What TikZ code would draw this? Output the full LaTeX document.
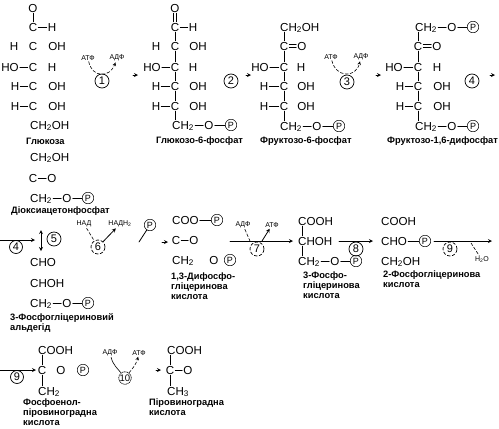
\documentclass[tikz,border=0pt]{standalone}
\usepackage{fontspec}
\setmainfont{Liberation Sans}
\begin{document}
\begin{tikzpicture}[x=1pt,y=-1pt,line cap=round,line join=round,>=stealth,
  every node/.style={inner sep=1pt},
  chem/.style={font=\fontsize{11.6}{11.6}\selectfont,text height=8.3pt,text depth=0pt},
  chemw/.style={chem,anchor=west},
  lbl/.style={font=\fontsize{9.3}{10}\selectfont\bfseries,anchor=west},
  cof/.style={font=\fontsize{7}{8}\selectfont},
  num/.style={circle,draw,line width=0.7pt,inner sep=0pt,minimum size=14pt,font=\fontsize{11}{11}\selectfont},
  phos/.style={circle,draw,line width=0.5pt,inner sep=0pt,minimum size=11.5pt,font=\fontsize{9}{9}\selectfont},
  bond/.style={line width=0.8pt},
  cofline/.style={line width=0.6pt,densely dashed},
  react/.style={line width=0.8pt,->}]
  \useasboundingbox (0,0) rectangle (499,429);
  % Glucose
  \node[chem] (goo) at (33,8) {O};
  \node[chem] (gc1) at (33,27) {C};
  \node[chem] (gh1) at (52,27) {H};
  \node[chem] (gh2) at (14,46) {H};
  \node[chem] (gc2) at (33,46) {C};
  \node[chem] (goh2) at (57,46) {OH};
  \node[chem] (gho3) at (10,67) {HO};
  \node[chem] (gc3) at (33,67) {C};
  \node[chem] (gh3) at (52,67) {H};
  \node[chem] (gh4) at (15,86) {H};
  \node[chem] (gc4) at (33,86) {C};
  \node[chem] (goh4) at (57,86) {OH};
  \node[chem] (gh5) at (15,106) {H};
  \node[chem] (gc5) at (33,106) {C};
  \node[chem] (goh5) at (57,106) {OH};
  \node[chemw] (gch) at (29,125) {CH\textsubscript{2}OH};
  \node[lbl] (glab) at (25,141) {Глюкоза};
  \draw[bond] (goo) -- (gc1);
  \draw[bond] (gc1) -- (gh1);
  \draw[bond] (gho3) -- (gc3);
  \draw[bond] (gh4) -- (gc4);
  \draw[bond] (gh5) -- (gc5);
  % Reaction 1
  \node[cof] (atf1) at (88,58) {АТФ};
  \node[cof] (adf1) at (117,58) {АДФ};
  \node[num] (n1) at (102,81) {1};
  \draw[cofline,->] (atf1) .. controls (92,78) and (110,78) .. (adf1);
  \coordinate (f1a) at (133,75);
  \coordinate (f1b) at (138,75);
  \draw[react] (f1a) -- (f1b);
  % Glucose-6-phosphate
  \node[chem] (aoo) at (175,8) {O};
  \node[chem] (ac1) at (175,27) {C};
  \node[chem] (ah1) at (193,27) {H};
  \node[chem] (ah2) at (156,46) {H};
  \node[chem] (ac2) at (175,46) {C};
  \node[chem] (aoh2) at (198,46) {OH};
  \node[chem] (aho3) at (152,67) {HO};
  \node[chem] (ac3) at (175,67) {C};
  \node[chem] (ah3) at (193,67) {H};
  \node[chem] (ah4) at (156,86) {H};
  \node[chem] (ac4) at (175,86) {C};
  \node[chem] (aoh4) at (198,86) {OH};
  \node[chem] (ah5) at (156,106) {H};
  \node[chem] (ac5) at (175,106) {C};
  \node[chem] (aoh5) at (198,106) {OH};
  \node[chemw] (ach) at (171,125) {CH\textsubscript{2}};
  \node[chem] (ao6) at (209,125) {O};
  \node[phos] (ap6) at (231,125) {P};
  \node[lbl] (alab) at (155,141) {Глюкозо-6-фосфат};
  \draw[bond] ([xshift=-1.2pt]aoo.south) -- ([xshift=-1.2pt]ac1.north);
  \draw[bond] ([xshift=1.2pt]aoo.south) -- ([xshift=1.2pt]ac1.north);
  \draw[bond] (ac1) -- (ah1);
  \draw[bond] (ac1) -- (ac2);
  \draw[bond] (ac2) -- (ac3);
  \draw[bond] (aho3) -- (ac3);
  \draw[bond] (ac3) -- (ac4);
  \draw[bond] (ah4) -- (ac4);
  \draw[bond] (ac4) -- (ac5);
  \draw[bond] (ah5) -- (ac5);
  \draw[bond] (ac5) -- (ac5 |- ach.north);
  \draw[bond] (ach) -- (ao6);
  \draw[bond] (ao6) -- (ap6);
  % Reaction 2
  \node[num] (n2) at (231,81) {2};
  \coordinate (f2a) at (246,75);
  \coordinate (f2b) at (251,75);
  \draw[react] (f2a) -- (f2b);
  % Fructose-6-phosphate
  \node[chemw] (bch1) at (279,27) {CH\textsubscript{2}OH};
  \node[chem] (bc2) at (284,46) {C};
  \node[chem] (boo) at (302,46) {O};
  \node[chem] (bho3) at (260,67) {HO};
  \node[chem] (bc3) at (284,67) {C};
  \node[chem] (bh3) at (301,67) {H};
  \node[chem] (bh4) at (264,86) {H};
  \node[chem] (bc4) at (284,86) {C};
  \node[chem] (boh4) at (306,86) {OH};
  \node[chem] (bh5) at (264,106) {H};
  \node[chem] (bc5) at (284,106) {C};
  \node[chem] (boh5) at (306,106) {OH};
  \node[chemw] (bch) at (279,126) {CH\textsubscript{2}};
  \node[chem] (bo6) at (317,126) {O};
  \node[phos] (bp6) at (339,126) {P};
  \node[lbl] (blab) at (259,141) {Фруктозо-6-фосфат};
  \draw[bond] (bc2) -- (bc2 |- bch1.south);
  \draw[bond] ([yshift=1.2pt]bc2.east) -- ([yshift=1.2pt]boo.west);
  \draw[bond] ([yshift=-1.2pt]bc2.east) -- ([yshift=-1.2pt]boo.west);
  \draw[bond] (bc2) -- (bc3);
  \draw[bond] (bho3) -- (bc3);
  \draw[bond] (bc3) -- (bc4);
  \draw[bond] (bh4) -- (bc4);
  \draw[bond] (bc4) -- (bc5);
  \draw[bond] (bh5) -- (bc5);
  \draw[bond] (bc5) -- (bc5 |- bch.north);
  \draw[bond] (bch) -- (bo6);
  \draw[bond] (bo6) -- (bp6);
  % Reaction 3
  \node[cof] (atf3) at (331,57) {АТФ};
  \node[cof] (adf3) at (361,57) {АДФ};
  \node[num] (n3) at (347,82) {3};
  \draw[cofline,->] (atf3) .. controls (336,78) and (356,78) .. (adf3);
  \coordinate (f3a) at (376,75);
  \coordinate (f3b) at (381,75);
  \draw[react] (f3a) -- (f3b);
  % Fructose-1,6-diphosphate
  \node[chemw] (cch1) at (414,27) {CH\textsubscript{2}};
  \node[chem] (co1) at (452,27) {O};
  \node[phos] (cp1) at (473,27) {P};
  \node[chem] (cc2) at (418,46) {C};
  \node[chem] (coo) at (437,46) {O};
  \node[chem] (cho3) at (394,67) {HO};
  \node[chem] (cc3) at (418,67) {C};
  \node[chem] (ch3) at (437,67) {H};
  \node[chem] (ch4) at (400,86) {H};
  \node[chem] (cc4) at (418,86) {C};
  \node[chem] (coh4) at (442,86) {OH};
  \node[chem] (ch5) at (400,106) {H};
  \node[chem] (cc5) at (418,106) {C};
  \node[chem] (coh5) at (442,106) {OH};
  \node[chemw] (cch) at (414,126) {CH\textsubscript{2}};
  \node[chem] (co6) at (452,126) {O};
  \node[phos] (cp6) at (473,126) {P};
  \node[lbl] (clab) at (386,141) {Фруктозо-1,6-дифосфат};
  \draw[bond] (cch1) -- (co1);
  \draw[bond] (co1) -- (cp1);
  \draw[bond] (cc2) -- (cc2 |- cch1.south);
  \draw[bond] ([yshift=1.2pt]cc2.east) -- ([yshift=1.2pt]coo.west);
  \draw[bond] ([yshift=-1.2pt]cc2.east) -- ([yshift=-1.2pt]coo.west);
  \draw[bond] (cc2) -- (cc3);
  \draw[bond] (cho3) -- (cc3);
  \draw[bond] (cc3) -- (cc4);
  \draw[bond] (ch4) -- (cc4);
  \draw[bond] (cc4) -- (cc5);
  \draw[bond] (ch5) -- (cc5);
  \draw[bond] (cc5) -- (cc5 |- cch.north);
  \draw[bond] (cch) -- (co6);
  \draw[bond] (co6) -- (cp6);
  % Reaction 4
  \node[num] (n4) at (472,81) {4};
  \coordinate (f4a) at (490,75);
  \coordinate (f4b) at (495,75);
  \draw[react] (f4a) -- (f4b);
  % Dihydroxyacetone phosphate
  \node[chemw] (dch1) at (29,157) {CH\textsubscript{2}OH};
  \node[chem] (dc2) at (33,178) {C};
  \node[chem] (doo) at (52,178) {O};
  \node[chemw] (dch3) at (29,198) {CH\textsubscript{2}};
  \node[chem] (do3) at (67,198) {O};
  \node[phos] (dp3) at (88,198) {P};
  \node[lbl] (dlab) at (10,211) {Діоксиацетонфосфат};
  \draw[bond] (dc2) -- (doo);
  \draw[bond] (dch3) -- (do3);
  \draw[bond] (do3) -- (dp3);
  % Reaction 4 continued, isomerase 5
  \coordinate (r4a) at (0,240);
  \coordinate (r4b) at (35,240);
  \draw[react] (r4a) -- (r4b);
  \node[num,minimum size=13pt] (m4) at (16,247) {4};
  \coordinate (r5a) at (41,230);
  \coordinate (r5b) at (41,251);
  \draw[react,<->] (r5a) -- (r5b);
  \node[num] (n5) at (54,239) {5};
  % Phosphoglyceraldehyde
  \node[chemw] (echo) at (29,262) {CHO};
  \node[chemw] (echoh) at (29,283) {CHOH};
  \node[chemw] (ech) at (29,303) {CH\textsubscript{2}};
  \node[chem] (eo3) at (67,303) {O};
  \node[phos] (ep3) at (88,303) {P};
  \node[lbl,align=left,anchor=north west] (elab) at (9,312) {3-Фосфогліцериновий\\альдегід};
  \draw[bond] (ech) -- (eo3);
  \draw[bond] (eo3) -- (ep3);
  % Reaction 6
  \node[cof] (nad) at (84,224) {НАД};
  \node[cof] (nadh) at (120,224) {НАДН\textsubscript{2}};
  \node[num,densely dashed] (n6) at (98,247) {6};
  \node[phos] (p6) at (150,225) {P};
  \draw[cofline] (nad) -- (n6);
  \draw[bond,->] (n6) -- (nadh);
  \coordinate (f6a) at (139,242);
  \draw[bond] (f6a) -- (p6);
  \coordinate (f6b) at (162,242);
  \coordinate (f6c) at (168,242);
  \draw[react] (f6b) -- (f6c);
  % 1,3-Diphosphoglyceric acid
  \node[chemw] (fcoo) at (171,220) {COO};
  \node[phos] (fp1) at (217,220) {P};
  \node[chem] (fc2) at (176,240) {C};
  \node[chem] (foo) at (194,240) {O};
  \node[chemw] (fch) at (171,260) {CH\textsubscript{2}};
  \node[chem] (fo3) at (214,260) {O};
  \node[phos] (fp3) at (230,260) {P};
  \node[lbl,align=left,anchor=north west] (flab) at (170,272) {1,3-Дифосфо-\\гліцеринова\\кислота};
  \draw[bond] (fcoo) -- (fp1);
  \draw[bond] (fc2) -- (foo);
  % Reaction 7
  \coordinate (r7a) at (230,241);
  \coordinate (r7b) at (293,241);
  \coordinate (r7c) at (250,241);
  \coordinate (r7d) at (262,241);
  \draw[react] (r7a) -- (r7b);
  \node[cof] (adf7) at (243,225) {АДФ};
  \node[cof] (atf7) at (272,225) {АТФ};
  \node[num,densely dashed] (n7) at (257,249) {7};
  \draw[cofline] (adf7) -- (r7c);
  \draw[bond,->] (r7d) -- (atf7);
  % 3-Phosphoglyceric acid
  \node[chemw] (gcooh) at (297,221) {COOH};
  \node[chemw] (gchoh) at (297,241) {CHOH};
  \node[chemw] (gch2) at (297,261) {CH\textsubscript{2}};
  \node[chem] (go3) at (335,261) {O};
  \node[phos] (gp3) at (356,261) {P};
  \coordinate (gx) at (302,241);
  \node[lbl,align=left,anchor=north west] (gplab) at (302,271) {3-Фосфо-\\гліцеринова\\кислота};
  \draw[bond] (gx |- gcooh.south) -- (gx |- gchoh.north);
  \draw[bond] (gx |- gchoh.south) -- (gx |- gch2.north);
  \draw[bond] (gch2) -- (go3);
  \draw[bond] (go3) -- (gp3);
  % Reaction 8
  \coordinate (r8a) at (339,241);
  \coordinate (r8b) at (373,241);
  \draw[react] (r8a) -- (r8b);
  \node[num] (n8) at (356,249) {8};
  % 2-Phosphoglyceric acid
  \node[chemw] (hcooh) at (380,221) {COOH};
  \node[chemw] (hcho) at (380,241) {CHO};
  \node[phos] (hp) at (425,241) {P};
  \node[chemw] (hch) at (380,261) {CH\textsubscript{2}OH};
  \node[lbl,align=left,anchor=north west] (hlab) at (382,270) {2-Фосфогліцеринова\\кислота};
  \draw[bond] (hcho) -- (hp);
  % Reaction 9
  \coordinate (r9a) at (434,241);
  \coordinate (r9b) at (492,241);
  \draw[react] (r9a) -- (r9b);
  \node[num,densely dashed] (n9) at (450,249) {9};
  \node[cof] (water) at (482,260) {H\textsubscript{2}O};
  \coordinate (w9) at (471,243);
  \draw[cofline] (w9) -- (water);
  % Phosphoenolpyruvate
  \coordinate (r9c) at (0,370);
  \coordinate (r9d) at (36,370);
  \draw[react] (r9c) -- (r9d);
  \node[num,minimum size=13pt] (m9) at (17,377) {9};
  \node[chemw] (kcooh) at (37,350) {COOH};
  \node[chem] (kc) at (42,370) {C};
  \node[chem] (ko) at (61,370) {O};
  \node[phos] (kp) at (83,370) {P};
  \node[chemw] (kch) at (37,391) {CH\textsubscript{2}};
  \node[lbl,align=left,anchor=north west] (klab) at (22,398) {Фосфоенол-\\піровиноградна\\кислота};
  \draw[bond] (kc) -- (kc |- kcooh.south);
  \draw[bond] (kc) -- (kc |- kch.north);
  % Reaction 10
  \node[cof] (adf10) at (110,353) {АДФ};
  \node[cof] (atf10) at (139,353) {АТФ};
  \node[num,densely dotted,minimum size=12pt,font=\fontsize{9.5}{9.5}\selectfont] (n10) at (125,378) {10};
  \draw[cofline,solid] (adf10) .. controls (113,365) and (118,369) .. (n10);
  \draw[cofline,->] (n10) .. controls (132,369) and (136,365) .. (atf10);
  \coordinate (f10a) at (156,370);
  \coordinate (f10b) at (161,370);
  \draw[react] (f10a) -- (f10b);
  % Pyruvic acid
  \node[chemw] (lcooh) at (166,350) {COOH};
  \node[chem] (lc) at (170,370) {C};
  \node[chem] (lo) at (188,370) {O};
  \node[chemw] (lch) at (166,391) {CH\textsubscript{3}};
  \node[lbl,align=left,anchor=north west] (llab) at (148,398) {Піровиноградна\\кислота};
  \draw[bond] (lc) -- (lc |- lcooh.south);
  \draw[bond] (lc) -- (lo);
  \draw[bond] (lc) -- (lc |- lch.north);
\end{tikzpicture}
\end{document}
